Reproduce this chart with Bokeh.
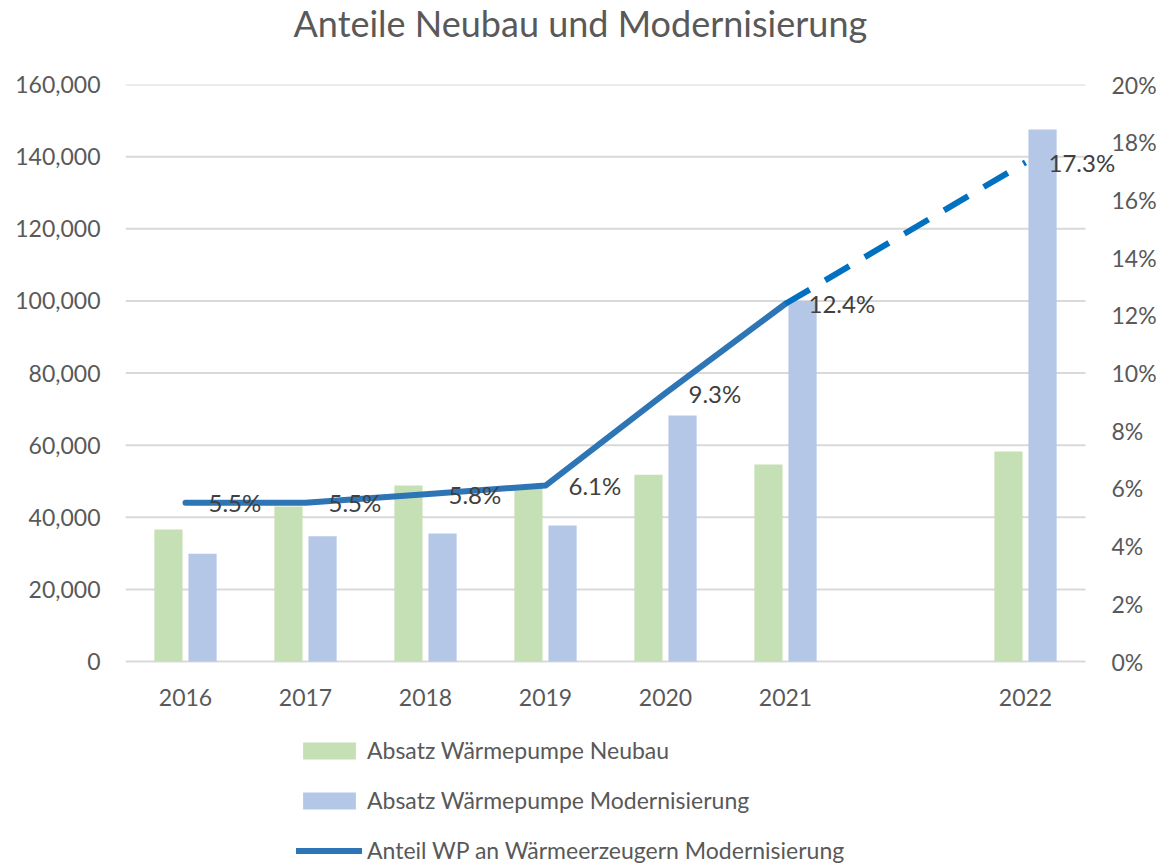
from bokeh.plotting import figure
from bokeh.models import (Range1d, LinearAxis, FixedTicker, NumeralTickFormatter,
                          ColumnDataSource, LabelSet, Legend, LegendItem, Title)
from bokeh.core.properties import value
from bokeh.embed import file_html
from bokeh.resources import INLINE

# ---- data ----
categories = ["2016", "2017", "2018", "2019", "2020", "2021", "", "2022"]
years = ["2016", "2017", "2018", "2019", "2020", "2021", "2022"]
neubau = [36600, 43000, 48800, 48300, 51800, 54600, 58200]
modernisierung = [29900, 34700, 35500, 37700, 68200, 100000, 147500]
anteil = [0.055, 0.055, 0.058, 0.061, 0.093, 0.124, 0.173]
anteil_labels = ["5.5%", "5.5%", "5.8%", "6.1%", "9.3%", "12.4%", "17.3%"]
left_ticks = [0, 20000, 40000, 60000, 80000, 100000, 120000, 140000, 160000]
right_ticks = [0, 0.02, 0.04, 0.06, 0.08, 0.10, 0.12, 0.14, 0.16, 0.18, 0.20]
LEFT_MAX = 160000
RIGHT_MAX = 0.2

FONT = "Lato"
TXT = "#595959"

# ---- layout constants (pixels) ----
PLOT_H = 577      # height of the value area (0 .. max)
FRAME_H = 780     # frame also holds the legend below the value area
FRAME_W = 1000
below = (FRAME_H - PLOT_H) / PLOT_H

xpos = [categories.index(y) for y in years]
BW = 0.235
OFF = 0.142
src = ColumnDataSource(dict(x=xpos, x1=[v - OFF for v in xpos], x2=[v + OFF for v in xpos],
                            neubau=neubau, mod=modernisierung, anteil=anteil, lab=anteil_labels))
solid_src = ColumnDataSource(dict(x=xpos[:6], anteil=anteil[:6]))
dash_src = ColumnDataSource(dict(x=xpos[5:], anteil=anteil[5:]))

n = len(categories)
extra = 40 / 120.0  # room to the right of the category area for the last data label
p = figure(frame_width=FRAME_W, frame_height=FRAME_H,
           x_range=Range1d(-0.5, n - 0.5 + extra), y_range=Range1d(-below * LEFT_MAX, LEFT_MAX),
           output_backend="svg", toolbar_location=None,
           min_border_left=125, min_border_right=27, min_border_top=84, min_border_bottom=0)
p.extra_y_ranges = {"pct": Range1d(-below * RIGHT_MAX, RIGHT_MAX)}
p.outline_line_color = None
p.xgrid.grid_line_color = None
p.ygrid.grid_line_color = None

# title (a blank spacer title sits between the real title and the plot area)
spacer = Title(text=" ", text_font=FONT, text_font_size="20px", standoff=24)
p.add_layout(spacer, "above")
t = Title(text="Anteile Neubau und Modernisierung", align="left", vertical_align="bottom",
          text_font=FONT, text_font_size="36px", text_color=TXT, text_font_style="normal",
          offset=168)
try:
    t.standoff = -20
except Exception:
    t.standoff = 0
p.add_layout(t, "above")

# gridlines over the category area only
p.segment(x0=[-0.5] * len(left_ticks), x1=[n - 0.5] * len(left_ticks), y0=left_ticks, y1=left_ticks,
          line_color="#D9D9D9", line_width=2, level="underlay")

# bars
b1 = p.vbar(x="x1", top="neubau", width=BW, source=src, fill_color="#C5E0B4", line_color=None)
b2 = p.vbar(x="x2", top="mod", width=BW, source=src, fill_color="#B4C7E7", line_color=None)

# line
l1 = p.line(x="x", y="anteil", source=solid_src, y_range_name="pct", line_color="#2E75B6",
            line_width=6, line_cap="round", line_join="round")
p.line(x="x", y="anteil", source=dash_src, y_range_name="pct", line_color="#0070C0",
       line_width=6, line_dash="28 18")

labels = LabelSet(x="x", y="anteil", text="lab", source=src, y_range_name="pct",
                  x_offset=23, y_offset=0, text_baseline="middle", text_align="left",
                  text_font=value(FONT), text_font_size=value("24px"), text_color=value("#404040"))
p.add_layout(labels)

# axes
p.xaxis.ticker = FixedTicker(ticks=xpos)
p.xaxis.major_label_overrides = {x: y for x, y in zip(xpos, years)}
p.yaxis.ticker = FixedTicker(ticks=left_ticks)
p.yaxis.formatter = NumeralTickFormatter(format="0,0")
ax_r = LinearAxis(y_range_name="pct", ticker=FixedTicker(ticks=right_ticks),
                  formatter=NumeralTickFormatter(format="0%"))
p.add_layout(ax_r, "right")

for ax in [p.xaxis[0], p.yaxis[0], ax_r]:
    ax.axis_line_color = None
    ax.major_tick_line_color = None
    ax.minor_tick_line_color = None
    ax.major_tick_out = 0
    ax.major_tick_in = 0
    ax.major_label_text_font = FONT
    ax.major_label_text_font_size = "23px"
    ax.major_label_text_color = TXT
p.yaxis[0].major_label_standoff = 25
ax_r.major_label_standoff = -14
# year labels sit just under the zero line, i.e. above the frame's lower edge
p.xaxis[0].major_label_standoff = 27 - (FRAME_H - PLOT_H)

legend = Legend(items=[LegendItem(label="Absatz Wärmepumpe Neubau", renderers=[b1]),
                       LegendItem(label="Absatz Wärmepumpe Modernisierung", renderers=[b2]),
                       LegendItem(label="Anteil WP an Wärmeerzeugern Modernisierung", renderers=[l1])],
                location=(171, 0), orientation="vertical", border_line_color=None,
                background_fill_alpha=0, padding=0, margin=0, spacing=22,
                label_height=28, glyph_height=21, glyph_width=66, label_standoff=5,
                label_text_font=FONT, label_text_font_size="23px", label_text_color=TXT)
p.add_layout(legend)

open("out.html", "w").write(file_html(p, INLINE))
